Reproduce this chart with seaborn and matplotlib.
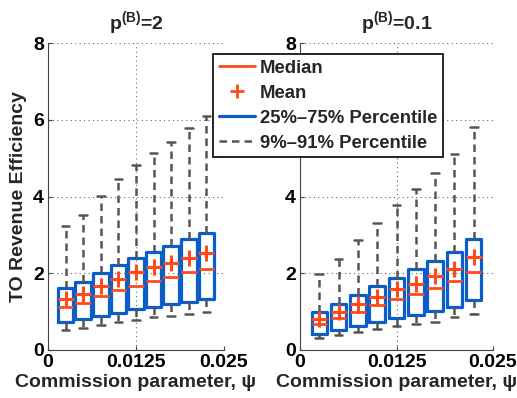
import numpy as np
import seaborn as sns
import matplotlib.pyplot as plt
from matplotlib.lines import Line2D

# commission parameter positions
psi = [0.0025, 0.005, 0.0075, 0.01, 0.0125, 0.015, 0.0175, 0.02, 0.0225]

# p(B)=2
p2_low = [0.52, 0.58, 0.65, 0.72, 0.78, 0.85, 0.88, 0.95, 1.00]
p2_q1 = [0.72, 0.80, 0.88, 0.97, 1.06, 1.13, 1.19, 1.26, 1.34]
p2_med = [1.13, 1.23, 1.40, 1.56, 1.68, 1.80, 1.89, 2.03, 2.12]
p2_mean = [1.34, 1.46, 1.66, 1.85, 2.02, 2.15, 2.27, 2.40, 2.54]
p2_q3 = [1.62, 1.76, 2.01, 2.22, 2.40, 2.56, 2.71, 2.89, 3.05]
p2_high = [3.22, 3.51, 4.01, 4.45, 4.82, 5.14, 5.41, 5.79, 6.09]

# p(B)=0.1
p01_low = [0.32, 0.39, 0.46, 0.54, 0.62, 0.68, 0.74, 0.85, 0.94]
p01_q1 = [0.42, 0.51, 0.63, 0.73, 0.83, 0.92, 1.02, 1.13, 1.30]
p01_med = [0.68, 0.83, 1.00, 1.17, 1.32, 1.46, 1.61, 1.79, 2.02]
p01_mean = [0.82, 0.99, 1.19, 1.39, 1.58, 1.73, 1.92, 2.12, 2.42]
p01_q3 = [0.98, 1.19, 1.43, 1.67, 1.88, 2.11, 2.32, 2.55, 2.90]
p01_high = [1.97, 2.36, 2.86, 3.32, 3.77, 4.19, 4.62, 5.10, 5.81]

titles = [r'$\mathbf{p^{(B)}}$=2', r'$\mathbf{p^{(B)}}$=0.1']

sns.set_style('ticks')
plt.rcParams['font.family'] = ['Liberation Sans', 'DejaVu Sans']
plt.rcParams['font.weight'] = 'bold'
plt.rcParams['mathtext.fontset'] = 'custom'
plt.rcParams['mathtext.bf'] = 'Liberation Sans:bold'
plt.rcParams['mathtext.rm'] = 'Liberation Sans:bold'

blue = '#0a5ec8'
red = '#ff4a1c'
grey = '#555555'
dash = (0, (3, 2))

fig = plt.figure(figsize=(5.17, 3.98), dpi=100)
ax1 = fig.add_axes([48 / 517, 48 / 398, 176 / 517, 307 / 398])
ax2 = fig.add_axes([300 / 517, 48 / 398, 193 / 517, 307 / 398])


def draw_panel(ax, low, q1, med, mean, q3, high, title, width):
    stats = []
    for i in range(len(psi)):
        stats.append({'whislo': low[i], 'q1': q1[i], 'med': med[i],
                      'q3': q3[i], 'whishi': high[i], 'fliers': []})
    ax.bxp(stats, positions=psi, widths=width, showfliers=False,
           manage_ticks=False, patch_artist=False,
           boxprops={'color': blue, 'linewidth': 2.3},
           medianprops={'color': red, 'linewidth': 2},
           whiskerprops={'color': grey, 'linewidth': 1.8, 'linestyle': dash},
           capprops={'color': grey, 'linewidth': 1.8})
    sns.scatterplot(x=psi, y=mean, marker='+', s=120, color=red,
                    linewidth=2.2, ax=ax, zorder=5)
    ax.set_xlim(0, 0.025)
    ax.set_ylim(0, 8)
    ax.set_xticks([0, 0.0125, 0.025])
    ax.set_xticklabels(['0', '0.0125', '0.025'])
    ax.set_yticks([0, 2, 4, 6, 8])
    ax.grid(True, linestyle=(0, (1, 3)), color='#666666', linewidth=0.8)
    for s in ['top', 'right']:
        ax.spines[s].set_visible(False)
    for s in ['left', 'bottom']:
        ax.spines[s].set_color('#444444')
    ax.tick_params(axis='both', direction='in', length=3, labelsize=14,
                   colors='#444444', labelcolor='black', pad=3)
    ax.set_title(title, fontsize=14, fontweight='bold', pad=10)
    ax.set_xlabel('Commission parameter, ψ', fontsize=14, fontweight='bold', labelpad=2)


draw_panel(ax1, p2_low, p2_q1, p2_med, p2_mean, p2_q3, p2_high, titles[0], 0.0022)
draw_panel(ax2, p01_low, p01_q1, p01_med, p01_mean, p01_q3, p01_high, titles[1], 0.002)
ax1.set_ylabel('TO Revenue Efficiency', fontsize=14, fontweight='bold', labelpad=4)

handles = [
    Line2D([], [], color=red, linewidth=2),
    Line2D([], [], color=red, marker='+', linestyle='', markersize=10, markeredgewidth=2),
    Line2D([], [], color=blue, linewidth=2.3),
    Line2D([], [], color=grey, linewidth=1.8, linestyle=dash),
]
labels = ['Median', 'Mean', '25%\u201375% Percentile', '9%\u201391% Percentile']
leg = fig.legend(handles, labels, loc='upper left', bbox_to_anchor=(213 / 517, 344 / 398),
                 fontsize=13.3, frameon=True, fancybox=False, framealpha=1,
                 edgecolor='black', handlelength=2.0, borderpad=0.3, labelspacing=0.44,
                 handletextpad=0.25, borderaxespad=0)
leg.get_frame().set_linewidth(1.2)

fig.savefig('out.png', dpi=100)
